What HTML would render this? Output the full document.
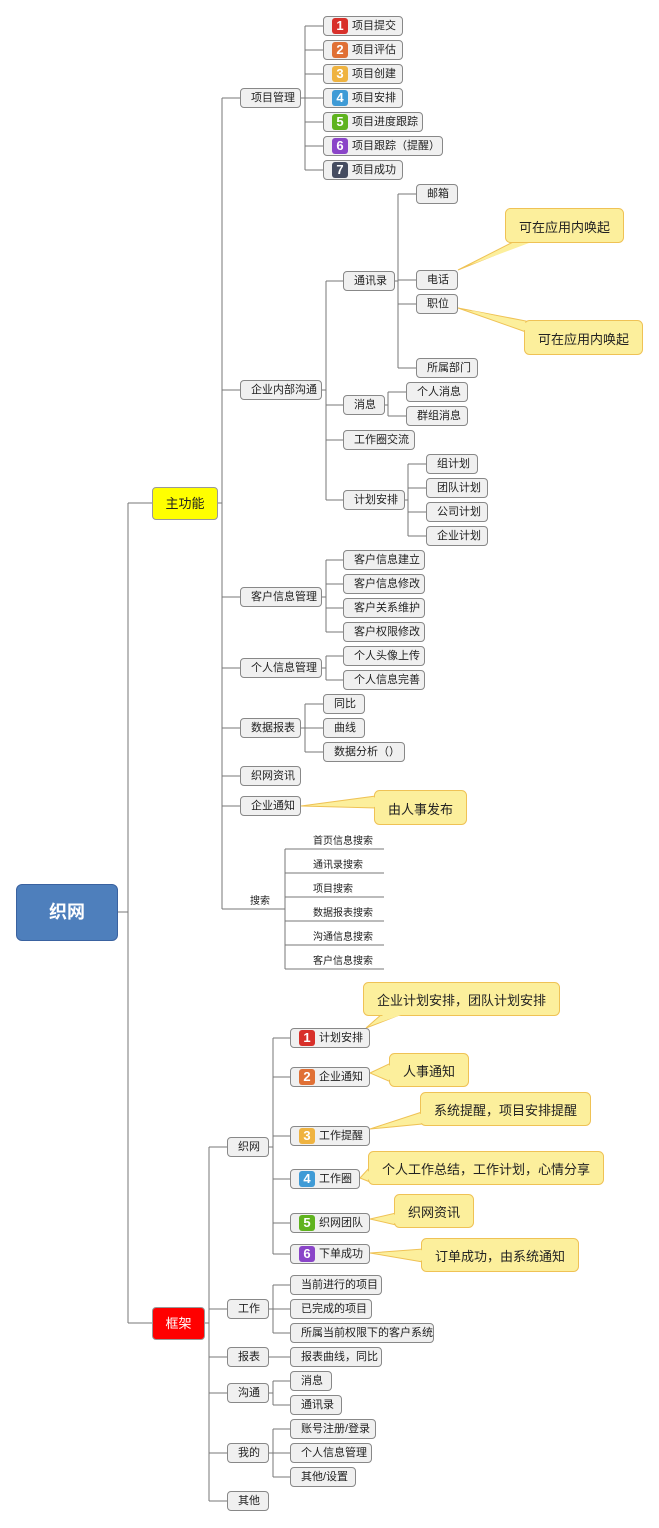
<!DOCTYPE html>
<html><head><meta charset="utf-8"><style>
body{margin:0;width:659px;height:1528px;background:#fff;position:relative;overflow:hidden;font-family:"Liberation Sans","Noto Sans CJK SC",sans-serif;}
.n{position:absolute;height:20px;box-sizing:border-box;border:1px solid #888;border-radius:4px;background:#f0f0f0;font-size:11px;line-height:18px;color:#222;padding-left:10px;white-space:nowrap;}
.b{display:inline-block;width:16px;height:16px;border-radius:3px;color:#fff;font-weight:bold;font-size:13px;line-height:16px;text-align:center;vertical-align:top;margin-top:1px;margin-left:-2px;margin-right:4px;}
.c{position:absolute;font-size:13px;color:#222;text-align:center;white-space:nowrap;}
.t{position:absolute;font-size:10px;color:#222;white-space:nowrap;}
svg{position:absolute;left:0;top:0;}
</style></head><body>
<svg width="659" height="1528" fill="none" stroke="#777" stroke-width="1">
<path d="M118 912H128M128 503V1323M128 503H152M128 1323H152
M218 503H222M222 98V909M222 98H240M222 390H240M222 597H240M222 668H240M222 728H240M222 776H240M222 806H240M222 909H285
M301 98H305M305 26V170M305 26H323M305 50H323M305 74H323M305 98H323M305 122H323M305 146H323M305 170H323
M322 390H326M326 281V500M326 281H343M326 405H343M326 440H343M326 500H343
M394 281H398M398 194V368M398 194H416M398 280H416M398 304H416M398 368H416
M384 405H388M388 392V416M388 392H406M388 416H406
M404 500H408M408 464V536M408 464H426M408 488H426M408 512H426M408 536H426
M322 597H326M326 560V632M326 560H343M326 584H343M326 608H343M326 632H343
M322 668H326M326 656V680M326 656H343M326 680H343
M301 728H305M305 704V752M305 704H323M305 728H323M305 752H323
M285 849V969M285 849H384M285 873H384M285 897H384M285 921H384M285 945H384M285 969H384
M205 1323H209M209 1147V1501M209 1147H227M209 1309H227M209 1357H227M209 1393H227M209 1453H227M209 1501H227
M268 1147H273M273 1038V1254M273 1038H290M273 1077H290M273 1136H290M273 1179H290M273 1223H290M273 1254H290
M268 1309H273M273 1285V1333M273 1285H290M273 1309H290M273 1333H290
M268 1357H290
M268 1393H273M273 1381V1405M273 1381H290M273 1405H290
M268 1453H273M273 1429V1477M273 1429H290M273 1453H290M273 1477H290"/>
<g fill="#fcef9c" stroke="#efc255">
<polygon points="458,270 515,241 530,241"/>
<polygon points="458,308 526,321 526,332"/>
<polygon points="301,806 376,796 376,808"/>
<polygon points="366,1028 382,1014 402,1014"/>
<polygon points="370,1073 391,1063 391,1082"/>
<polygon points="370,1129 422,1112 422,1124"/>
<polygon points="360,1178 370,1167 370,1182"/>
<polygon points="370,1219 396,1213 396,1225"/>
<polygon points="370,1253 423,1249 423,1262"/>
<rect x="505.5" y="208.5" width="118" height="34" rx="5"/>
<rect x="524.5" y="320.5" width="118" height="34" rx="5"/>
<rect x="374.5" y="790.5" width="92" height="34" rx="5"/>
<rect x="363.5" y="982.5" width="196" height="33" rx="5"/>
<rect x="389.5" y="1053.5" width="79" height="33" rx="5"/>
<rect x="420.5" y="1092.5" width="170" height="33" rx="5"/>
<rect x="368.5" y="1151.5" width="235" height="33" rx="5"/>
<rect x="394.5" y="1194.5" width="79" height="33" rx="5"/>
<rect x="421.5" y="1238.5" width="157" height="33" rx="5"/>
</g>
<g fill="#fcef9c" stroke="none">
<polygon points="470,265 516,243 529,243"/>
<polygon points="470,310 527,323 527,331"/>
<polygon points="320,805 377,797 377,807"/>
<polygon points="372,1025 383,1015 401,1015"/>
<polygon points="376,1073 392,1064 392,1081"/>
<polygon points="380,1127 423,1113 423,1123"/>
<polygon points="364,1177 371,1168 371,1181"/>
<polygon points="378,1218 397,1214 397,1224"/>
<polygon points="380,1253 424,1250 424,1261"/>
</g>
</svg>

<div style="position:absolute;left:16px;top:884px;width:102px;height:57px;box-sizing:border-box;background:#4e7fbc;border:1px solid #3a62a0;border-radius:6px;color:#fff;font-size:18px;font-weight:bold;text-align:center;line-height:55px;">织网</div>
<div style="position:absolute;left:152px;top:487px;width:66px;height:33px;box-sizing:border-box;background:#ffff00;border:1px solid #999;border-radius:4px;font-size:13px;text-align:center;line-height:31px;color:#222;">主功能</div>
<div style="position:absolute;left:152px;top:1307px;width:53px;height:33px;box-sizing:border-box;background:#ff0000;border:1px solid #999;border-radius:4px;font-size:13px;text-align:center;line-height:31px;color:#fff;">框架</div>

<div class="n" style="left:240px;top:88px;width:61px">项目管理</div>
<div class="n" style="left:240px;top:380px;width:82px">企业内部沟通</div>
<div class="n" style="left:240px;top:587px;width:82px">客户信息管理</div>
<div class="n" style="left:240px;top:658px;width:82px">个人信息管理</div>
<div class="n" style="left:240px;top:718px;width:61px">数据报表</div>
<div class="n" style="left:240px;top:766px;width:61px">织网资讯</div>
<div class="n" style="left:240px;top:796px;width:61px">企业通知</div>
<div class="t" style="left:250px;top:892px;">搜索</div>

<div class="n" style="left:323px;top:16px;width:80px"><span class="b" style="background:#d8302a">1</span>项目提交</div>
<div class="n" style="left:323px;top:40px;width:80px"><span class="b" style="background:#e07035">2</span>项目评估</div>
<div class="n" style="left:323px;top:64px;width:80px"><span class="b" style="background:#efb340">3</span>项目创建</div>
<div class="n" style="left:323px;top:88px;width:80px"><span class="b" style="background:#3f9bd6">4</span>项目安排</div>
<div class="n" style="left:323px;top:112px;width:100px"><span class="b" style="background:#5fb31e">5</span>项目进度跟踪</div>
<div class="n" style="left:323px;top:136px;width:120px"><span class="b" style="background:#8a45c8">6</span>项目跟踪（提醒）</div>
<div class="n" style="left:323px;top:160px;width:80px"><span class="b" style="background:#454c60">7</span>项目成功</div>

<div class="n" style="left:343px;top:271px;width:52px">通讯录</div>
<div class="n" style="left:343px;top:395px;width:42px">消息</div>
<div class="n" style="left:343px;top:430px;width:72px">工作圈交流</div>
<div class="n" style="left:343px;top:490px;width:62px">计划安排</div>
<div class="n" style="left:416px;top:184px;width:42px">邮箱</div>
<div class="n" style="left:416px;top:270px;width:42px">电话</div>
<div class="n" style="left:416px;top:294px;width:42px">职位</div>
<div class="n" style="left:416px;top:358px;width:62px">所属部门</div>
<div class="n" style="left:406px;top:382px;width:62px">个人消息</div>
<div class="n" style="left:406px;top:406px;width:62px">群组消息</div>
<div class="n" style="left:426px;top:454px;width:52px">组计划</div>
<div class="n" style="left:426px;top:478px;width:62px">团队计划</div>
<div class="n" style="left:426px;top:502px;width:62px">公司计划</div>
<div class="n" style="left:426px;top:526px;width:62px">企业计划</div>

<div class="n" style="left:343px;top:550px;width:82px">客户信息建立</div>
<div class="n" style="left:343px;top:574px;width:82px">客户信息修改</div>
<div class="n" style="left:343px;top:598px;width:82px">客户关系维护</div>
<div class="n" style="left:343px;top:622px;width:82px">客户权限修改</div>
<div class="n" style="left:343px;top:646px;width:82px">个人头像上传</div>
<div class="n" style="left:343px;top:670px;width:82px">个人信息完善</div>
<div class="n" style="left:323px;top:694px;width:42px">同比</div>
<div class="n" style="left:323px;top:718px;width:42px">曲线</div>
<div class="n" style="left:323px;top:742px;width:82px">数据分析（）</div>

<div class="t" style="left:313px;top:832px;">首页信息搜索</div>
<div class="t" style="left:313px;top:856px;">通讯录搜索</div>
<div class="t" style="left:313px;top:880px;">项目搜索</div>
<div class="t" style="left:313px;top:904px;">数据报表搜索</div>
<div class="t" style="left:313px;top:928px;">沟通信息搜索</div>
<div class="t" style="left:313px;top:952px;">客户信息搜索</div>

<div class="c" style="left:505px;top:217px;width:119px">可在应用内唤起</div>
<div class="c" style="left:524px;top:329px;width:119px">可在应用内唤起</div>
<div class="c" style="left:374px;top:799px;width:93px">由人事发布</div>
<div class="c" style="left:363px;top:990px;width:197px">企业计划安排，团队计划安排</div>
<div class="c" style="left:389px;top:1061px;width:80px">人事通知</div>
<div class="c" style="left:420px;top:1100px;width:171px">系统提醒，项目安排提醒</div>
<div class="c" style="left:368px;top:1159px;width:236px">个人工作总结，工作计划，心情分享</div>
<div class="c" style="left:394px;top:1202px;width:80px">织网资讯</div>
<div class="c" style="left:421px;top:1246px;width:158px">订单成功，由系统通知</div>

<div class="n" style="left:227px;top:1137px;width:42px">织网</div>
<div class="n" style="left:227px;top:1299px;width:42px">工作</div>
<div class="n" style="left:227px;top:1347px;width:42px">报表</div>
<div class="n" style="left:227px;top:1383px;width:42px">沟通</div>
<div class="n" style="left:227px;top:1443px;width:42px">我的</div>
<div class="n" style="left:227px;top:1491px;width:42px">其他</div>

<div class="n" style="left:290px;top:1028px;width:80px"><span class="b" style="background:#d8302a">1</span>计划安排</div>
<div class="n" style="left:290px;top:1067px;width:80px"><span class="b" style="background:#e07035">2</span>企业通知</div>
<div class="n" style="left:290px;top:1126px;width:80px"><span class="b" style="background:#efb340">3</span>工作提醒</div>
<div class="n" style="left:290px;top:1169px;width:70px"><span class="b" style="background:#3f9bd6">4</span>工作圈</div>
<div class="n" style="left:290px;top:1213px;width:80px"><span class="b" style="background:#5fb31e">5</span>织网团队</div>
<div class="n" style="left:290px;top:1244px;width:80px"><span class="b" style="background:#8a45c8">6</span>下单成功</div>

<div class="n" style="left:290px;top:1275px;width:92px">当前进行的项目</div>
<div class="n" style="left:290px;top:1299px;width:82px">已完成的项目</div>
<div class="n" style="left:290px;top:1323px;width:144px">所属当前权限下的客户系统</div>
<div class="n" style="left:290px;top:1347px;width:92px">报表曲线，同比</div>
<div class="n" style="left:290px;top:1371px;width:42px">消息</div>
<div class="n" style="left:290px;top:1395px;width:52px">通讯录</div>
<div class="n" style="left:290px;top:1419px;width:86px">账号注册/登录</div>
<div class="n" style="left:290px;top:1443px;width:82px">个人信息管理</div>
<div class="n" style="left:290px;top:1467px;width:66px">其他/设置</div>
</body></html>
